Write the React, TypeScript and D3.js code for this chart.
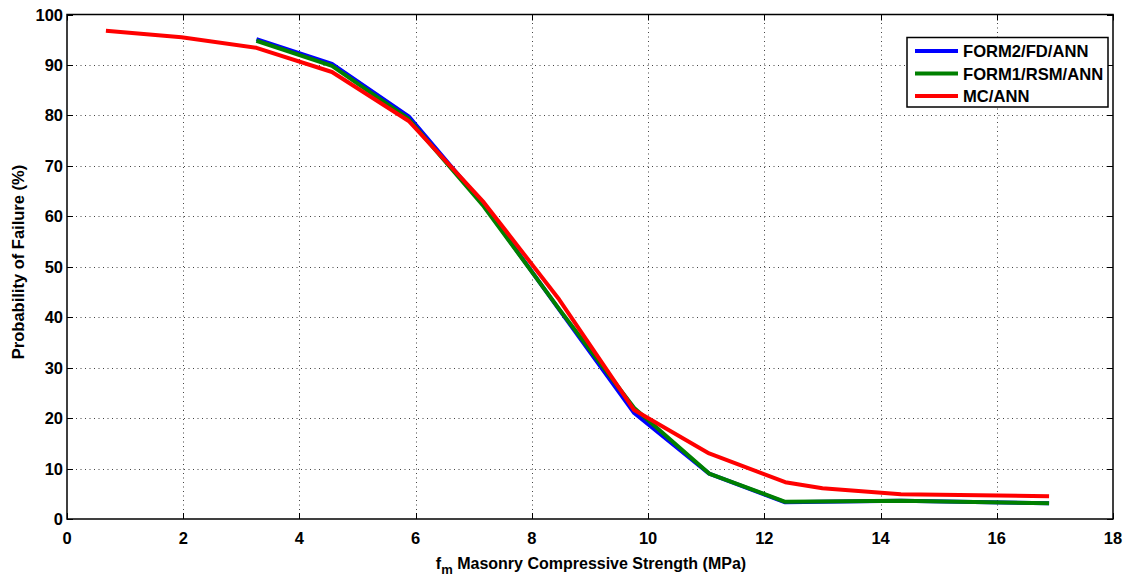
import React, { useEffect, useRef } from "react";
import * as d3 from "d3";

// strength values (MPa) where the curves were evaluated
const xRed = [0.67, 1.97, 3.26, 4.56, 5.88, 7.17, 8.47, 9.76, 11.05, 12.36, 13.0, 14.35, 16.9];
const xAnn = [3.26, 4.56, 5.88, 7.17, 8.47, 9.76, 11.05, 12.36, 14.35, 16.9];

// probability of failure (%)
const form2 = [95.1, 90.2, 79.8, 62.3, 41.5, 21.0, 9.0, 3.3, 3.6, 3.1];
const form1 = [94.8, 89.8, 79.3, 62.0, 41.6, 22.0, 9.0, 3.4, 3.6, 3.1];
const mcAnn = [96.8, 95.5, 93.4, 88.6, 78.9, 62.8, 43.5, 21.6, 13.0, 7.3, 6.1, 4.9, 4.5];

const xTicks = [0, 2, 4, 6, 8, 10, 12, 14, 16, 18];
const yTicks = [0, 10, 20, 30, 40, 50, 60, 70, 80, 90, 100];

const seriesNames = ["FORM2/FD/ANN", "FORM1/RSM/ANN", "MC/ANN"];
const seriesColors = ["#0000ff", "#008000", "#ff0000"];

export default function App() {
  const ref = useRef<SVGSVGElement>(null);

  useEffect(() => {
    drawChart();
  }, []);

  const drawChart = () => {
    const W = 1127, H = 581;
    const margin = { top: 14.5, right: 14, bottom: 62, left: 67 };

    const svg = d3.select(ref.current);
    svg.selectAll("*").remove();

    const x = d3.scaleLinear().domain([0, 18]).range([margin.left, W - margin.right]);
    const y = d3.scaleLinear().domain([0, 100]).range([H - margin.bottom, margin.top]);

    const font = "Arial, 'Liberation Sans', Helvetica, sans-serif";

    // white background
    svg.append("rect").attr("width", W).attr("height", H).attr("fill", "#fff");

    // grid (dotted, MATLAB-style)
    const grid = svg.append("g").attr("stroke", "#444").attr("stroke-width", 1)
      .attr("stroke-dasharray", "1,3.5");
    grid.selectAll("line.gx")
      .data(xTicks.slice(1, -1))
      .enter().append("line")
      .attr("x1", d => Math.round(x(d)) + 0.5).attr("x2", d => Math.round(x(d)) + 0.5)
      .attr("y1", y(0)).attr("y2", y(100));
    grid.selectAll("line.gy")
      .data(yTicks.slice(1, -1))
      .enter().append("line")
      .attr("y1", d => Math.round(y(d)) + 0.5).attr("y2", d => Math.round(y(d)) + 0.5)
      .attr("x1", x(0)).attr("x2", x(18));

    // ticks pointing inward on all four sides
    const tl = 6;
    const ticks = svg.append("g").attr("stroke", "#000").attr("stroke-width", 1);
    xTicks.forEach(d => {
      const px = Math.round(x(d)) + 0.5;
      ticks.append("line").attr("x1", px).attr("x2", px).attr("y1", y(0)).attr("y2", y(0) - tl);
      ticks.append("line").attr("x1", px).attr("x2", px).attr("y1", y(100)).attr("y2", y(100) + tl);
    });
    yTicks.forEach(d => {
      const py = Math.round(y(d)) + 0.5;
      ticks.append("line").attr("y1", py).attr("y2", py).attr("x1", x(0)).attr("x2", x(0) + tl);
      ticks.append("line").attr("y1", py).attr("y2", py).attr("x1", x(18)).attr("x2", x(18) - tl);
    });

    // lines
    const line = d3.line<[number, number]>().x(d => x(d[0])).y(d => y(d[1]));
    const data: [number, number][][] = [
      xAnn.map((v, i) => [v, form2[i]]),
      xAnn.map((v, i) => [v, form1[i]]),
      xRed.map((v, i) => [v, mcAnn[i]]),
    ];
    svg.selectAll("path.series")
      .data(data)
      .enter().append("path")
      .attr("class", "series")
      .attr("d", d => line(d))
      .attr("fill", "none")
      .attr("stroke", (d, i) => seriesColors[i])
      .attr("stroke-width", 4)
      .attr("stroke-linejoin", "round");

    // frame
    svg.append("rect")
      .attr("x", x(0)).attr("y", y(100))
      .attr("width", x(18) - x(0)).attr("height", y(0) - y(100))
      .attr("fill", "none").attr("stroke", "#000").attr("stroke-width", 1.5);

    // tick labels
    svg.selectAll("text.xt")
      .data(xTicks)
      .enter().append("text")
      .attr("x", d => x(d)).attr("y", y(0) + 25)
      .attr("text-anchor", "middle")
      .style("font-family", font).style("font-size", "16.5px").style("font-weight", "bold")
      .text(d => d);
    svg.selectAll("text.yt")
      .data(yTicks)
      .enter().append("text")
      .attr("x", x(0) - 4).attr("y", d => y(d) + 6)
      .attr("text-anchor", "end")
      .style("font-family", font).style("font-size", "16.5px").style("font-weight", "bold")
      .text(d => d);

    // axis titles
    const xl = svg.append("text")
      .attr("x", 591).attr("y", 569)
      .attr("text-anchor", "middle")
      .style("font-family", font).style("font-size", "16px").style("font-weight", "bold");
    xl.append("tspan").text("f");
    xl.append("tspan").attr("dy", 5).style("font-size", "13px").text("m");
    xl.append("tspan").attr("dy", -5).text(" Masonry Compressive Strength (MPa)");

    svg.append("text")
      .attr("transform", "translate(24,262) rotate(-90)")
      .attr("text-anchor", "middle")
      .style("font-family", font).style("font-size", "16.5px").style("font-weight", "bold")
      .text("Probability of Failure (%)");

    // legend
    const lg = svg.append("g").attr("transform", "translate(907,37.5)");
    lg.append("rect").attr("width", 201).attr("height", 69.5)
      .attr("fill", "#fff").attr("stroke", "#000").attr("stroke-width", 1.5);
    seriesNames.forEach((name, i) => {
      const ly = 13.5 + i * 22.5;
      lg.append("line").attr("x1", 8).attr("x2", 51).attr("y1", ly).attr("y2", ly)
        .attr("stroke", seriesColors[i]).attr("stroke-width", 4);
      lg.append("text").attr("x", 56).attr("y", ly + 6)
        .style("font-family", font).style("font-size", "16.6px").style("font-weight", "bold")
        .text(name);
    });
  };

  return (
    <svg ref={ref} width={1127} height={581}
      style={{ position: "absolute", left: 0, top: 0, display: "block" }} />
  );
}
